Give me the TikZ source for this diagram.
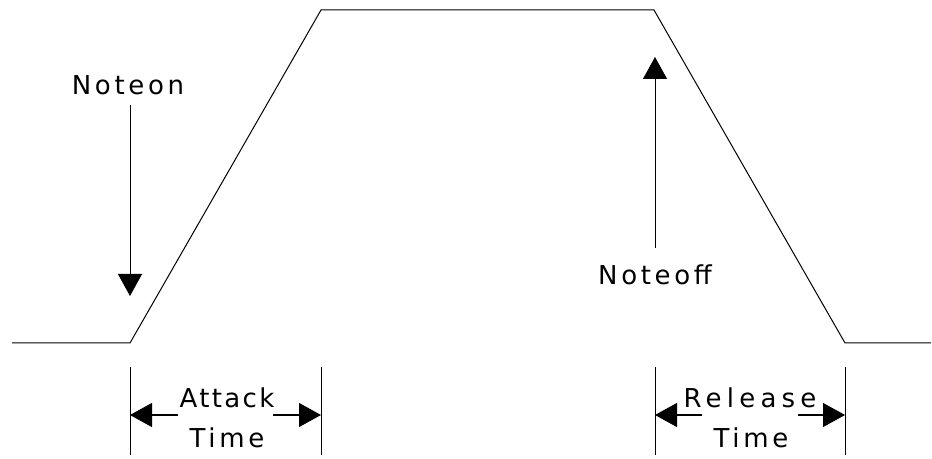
\documentclass[tikz,border=0pt]{standalone}
\usepackage{fontspec}
\setmainfont{DejaVu Sans}
\usetikzlibrary{arrows.meta}
\newfontfamily\lblA[LetterSpace=14]{DejaVu Sans}
\newfontfamily\lblB[LetterSpace=20]{DejaVu Sans}
\newfontfamily\lblC[LetterSpace=9]{DejaVu Sans}
\tikzset{
  every picture/.style={x=1bp,y=-1bp},
  env/.style={line width=1bp,black},
  lbl/.style={inner sep=0pt,anchor=base,font=\fontsize{26bp}{30bp}\lblA},
  ptr/.style={line width=1bp,-{Triangle[length=22bp,width=24bp]}},
}
\begin{document}
\begin{tikzpicture}
\useasboundingbox (0,0) rectangle (932,459);
% envelope
\coordinate (s0) at (12,343);
\coordinate (s1) at (130,343);
\coordinate (s2) at (321,10);
\coordinate (s3) at (654,10);
\coordinate (s4) at (845,343);
\coordinate (s5) at (931,343);
\draw[env] (s0) -- (s1) -- (s2) -- (s3) -- (s4) -- (s5);
% note on
\node[lbl] (non) at (128,95) {Noteon};
\coordinate (nonS) at (130,105);
\coordinate (nonT) at (130,296);
\draw[ptr] (nonS) -- (nonT);
% note off
\node[lbl] (noff) at (655,285) {Noteoff};
\coordinate (noffS) at (655,248);
\coordinate (noffT) at (655,57);
\draw[ptr] (noffS) -- (noffT);
% ticks
\coordinate (t1a) at (130,367); \coordinate (t1b) at (130,455);
\coordinate (t2a) at (321,367); \coordinate (t2b) at (321,455);
\coordinate (t3a) at (655,367); \coordinate (t3b) at (655,455);
\coordinate (t4a) at (845,367); \coordinate (t4b) at (845,455);
\draw[env] (t1a) -- (t1b);
\draw[env] (t2a) -- (t2b);
\draw[env] (t3a) -- (t3b);
\draw[env] (t4a) -- (t4b);
% attack
\node[lbl,font=\fontsize{26bp}{30bp}\lblC] (att) at (227,407) {Attack};
\node[lbl] (attT) at (227,447) {Time};
\coordinate (a1) at (178,415); \coordinate (a1t) at (130,415);
\coordinate (a2) at (273,415); \coordinate (a2t) at (321,415);
\draw[ptr] (a1) -- (a1t);
\draw[ptr] (a2) -- (a2t);
% release
\node[lbl,font=\fontsize{26bp}{30bp}\lblB] (rel) at (750,407) {Release};
\node[lbl] (relT) at (751,447) {Time};
\coordinate (r1) at (702,415); \coordinate (r1t) at (655,415);
\coordinate (r2) at (798,415); \coordinate (r2t) at (845,415);
\draw[ptr] (r1) -- (r1t);
\draw[ptr] (r2) -- (r2t);
\end{tikzpicture}
\end{document}
